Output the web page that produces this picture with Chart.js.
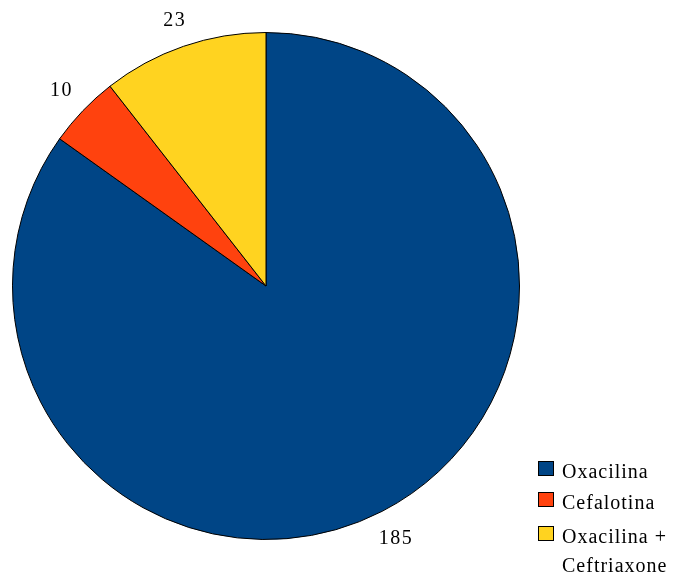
<!DOCTYPE html>
<html>
<head>
<meta charset="utf-8">
<script src="https://cdn.jsdelivr.net/npm/chart.js@4"></script>
<style>
  html, body { margin: 0; padding: 0; background: #fff; }
  #wrap { width: 673px; height: 574px; position: relative; }
</style>
</head>
<body>
<div id="wrap"><canvas id="pieChart"></canvas></div>
<script>
const categories = ["Oxacilina", "Cefalotina", "Oxacilina + Ceftriaxone"];
const counts = [185, 10, 23];
const sliceColors = ["#004586", "#ff420e", "#ffd320"];

const FONT = "'Liberation Serif', 'Times New Roman', serif";

// value labels just outside each slice, along its middle angle
const outerLabels = {
  id: "outerLabels",
  afterDatasetsDraw(chart) {
    const ctx = chart.ctx;
    const meta = chart.getDatasetMeta(0);
    ctx.save();
    ctx.font = "20px " + FONT;
    ctx.letterSpacing = "1.5px";
    ctx.fillStyle = "#000";
    ctx.textAlign = "center";
    ctx.textBaseline = "middle";
    meta.data.forEach((arc, i) => {
      const { x, y, startAngle, endAngle, outerRadius } = arc.getProps(["x", "y", "startAngle", "endAngle", "outerRadius"], true);
      const mid = (startAngle + endAngle) / 2;
      const dx = Math.cos(mid), dy = Math.sin(mid);
      const text = String(counts[i]);
      const w = ctx.measureText(text).width;
      const h = 15;
      const reach = Math.abs(dx) * w / 2 + Math.abs(dy) * h / 2;
      const d = outerRadius + 16 + reach;
      ctx.fillText(text, x + dx * d, y + dy * d);
    });
    ctx.restore();
  }
};

// legend in the lower right corner, long names wrapped
const cornerLegend = {
  id: "cornerLegend",
  afterDraw(chart) {
    const ctx = chart.ctx;
    const boxX = 538, textX = 562, maxW = chart.width - textX;
    const rows = [468, 499, 533];
    ctx.save();
    ctx.font = "20px " + FONT;
    ctx.letterSpacing = "1px";
    ctx.textBaseline = "alphabetic";
    ctx.textAlign = "left";
    chart.data.labels.forEach((label, i) => {
      const top = rows[i] - 7;
      ctx.fillStyle = sliceColors[i];
      ctx.fillRect(boxX, top, 16, 15);
      ctx.strokeStyle = "#000";
      ctx.lineWidth = 1;
      ctx.strokeRect(boxX + 0.5, top + 0.5, 15, 14);
      const words = label.split(" ");
      const lines = [];
      let line = "";
      words.forEach(wd => {
        const test = line ? line + " " + wd : wd;
        if (line && ctx.measureText(test).width > maxW) {
          lines.push(line);
          line = wd;
        } else {
          line = test;
        }
      });
      lines.push(line);
      ctx.fillStyle = "#000";
      lines.forEach((ln, k) => ctx.fillText(ln, textX, top + 17 + k * 29));
    });
    ctx.restore();
  }
};

new Chart(document.getElementById("pieChart"), {
  type: "pie",
  data: {
    labels: categories,
    datasets: [{
      data: counts,
      backgroundColor: sliceColors,
      borderColor: "#000",
      borderWidth: 1
    }]
  },
  options: {
    responsive: true,
    maintainAspectRatio: false,
    animation: false,
    layout: { padding: { left: 12, top: 32, right: 153, bottom: 34 } },
    plugins: {
      legend: { display: false },
      tooltip: { enabled: false }
    }
  },
  plugins: [outerLabels, cornerLegend]
});
</script>
</body>
</html>
